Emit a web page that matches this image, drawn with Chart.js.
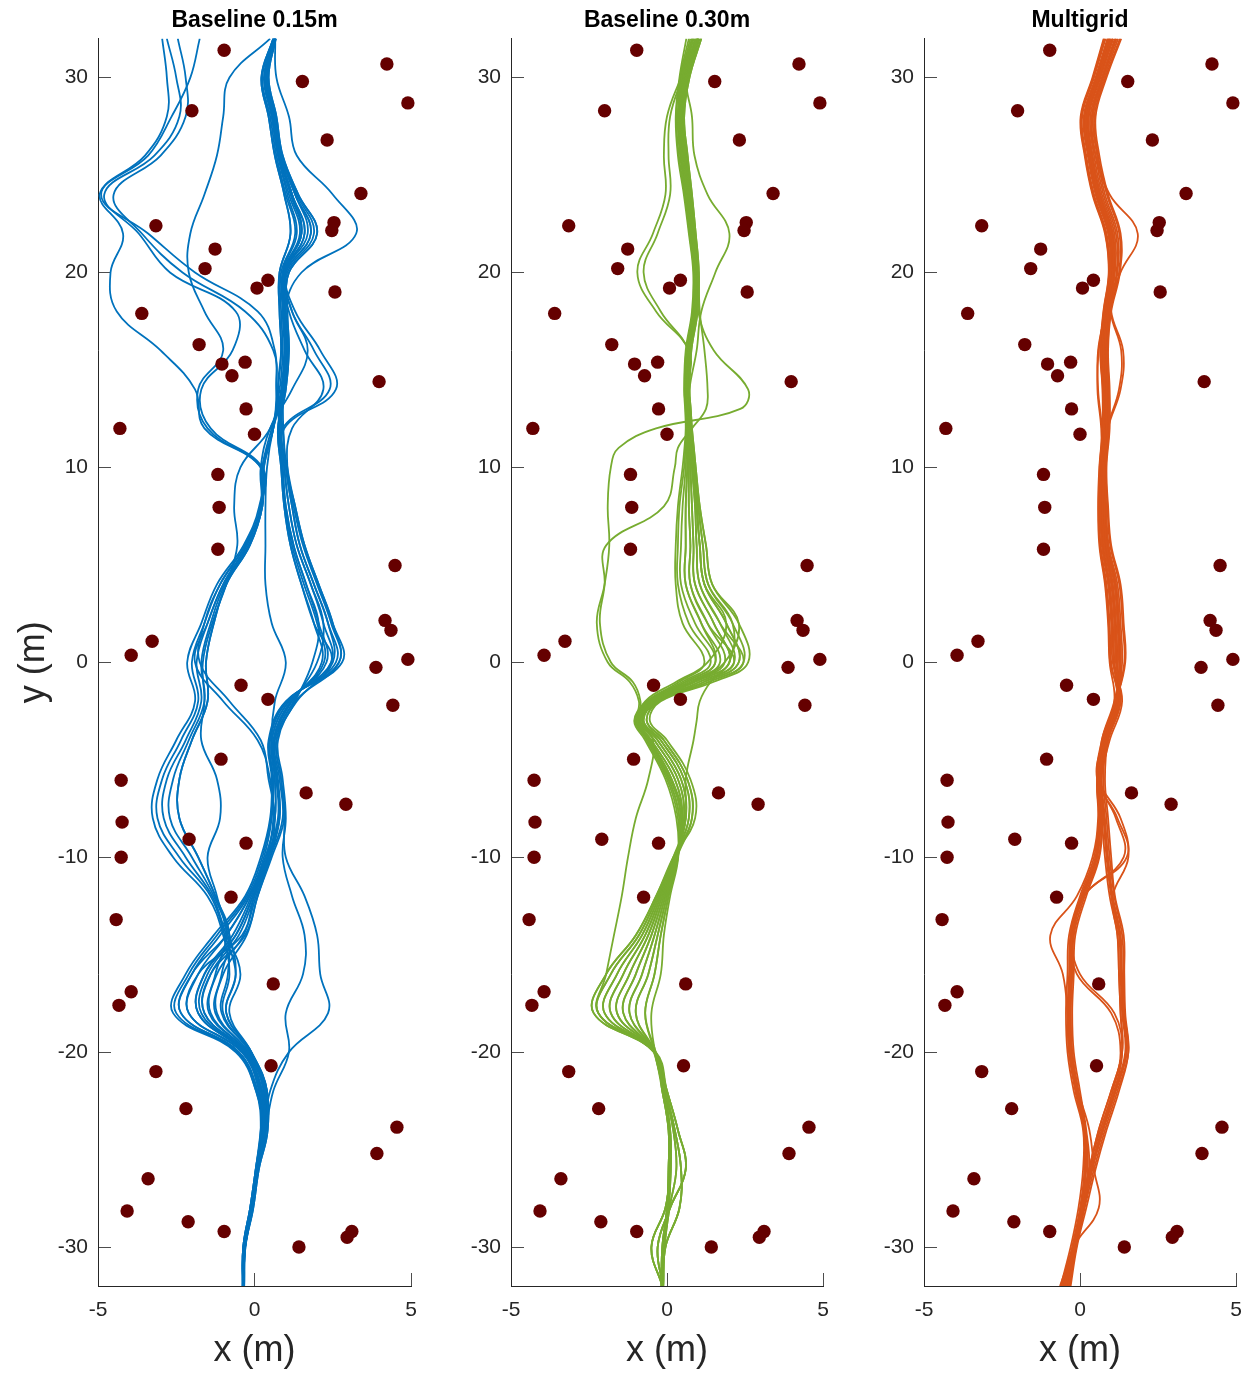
<!DOCTYPE html>
<html>
<head>
<meta charset="utf-8">
<script src="https://cdn.jsdelivr.net/npm/chart.js@4.4.0/dist/chart.umd.min.js"></script>
<style>
html,body{margin:0;padding:0;background:#fff;}
#wrap{position:relative;width:1249px;height:1376px;overflow:hidden;background:#fff;}
canvas{position:absolute;top:0;}
</style>
</head>
<body>
<div id="wrap">
<canvas id="c1" width="430" height="1376" style="left:0px"></canvas>
<canvas id="c2" width="413" height="1376" style="left:430px"></canvas>
<canvas id="c3" width="406" height="1376" style="left:843px"></canvas>
</div>
<script>
// ---------- axis ticks & titles ----------
const xTicks = [-5, 0, 5];
const yTicks = [-30, -20, -10, 0, 10, 20, 30];
const panelTitles = ['Baseline 0.15m', 'Baseline 0.30m', 'Multigrid'];

// ---------- obstacles (same in all panels) ----------
const obsX = [-0.97,4.23,4.9,1.53,-2.0,2.32,3.4,2.54,2.47,-3.15,-1.26,-1.58,0.43,0.08,2.57,-3.6,-1.77,-1.04,-0.3,-0.72,3.98,-0.27,0.0,-4.3,-1.17,-1.13,-1.17,4.49,4.17,4.36,-3.27,-3.94,4.9,3.88,-0.43,0.43,4.42,-1.07,-4.26,1.65,2.92,-4.23,-2.09,-0.27,-4.26,-0.75,-4.42,0.6,-3.94,-4.33,-3.15,0.53,-2.19,4.55,3.91,-3.4,-4.07,-2.12,-0.97,3.11,2.96,1.42];
const obsY = [31.4,30.7,28.7,29.8,28.3,26.8,24.05,22.56,22.15,22.4,21.2,20.2,19.6,19.2,19.0,17.9,16.3,15.3,15.4,14.7,14.4,13.0,11.7,12.0,9.64,7.95,5.8,4.97,2.15,1.64,1.08,0.36,0.15,-0.26,-1.18,-1.9,-2.2,-4.97,-6.05,-6.7,-7.28,-8.2,-9.08,-9.28,-10.0,-12.05,-13.2,-16.5,-16.9,-17.6,-21.0,-20.7,-22.9,-23.85,-25.2,-26.5,-28.15,-28.7,-29.2,-29.2,-29.5,-30.0];

// ---------- panel 1: Baseline 0.15m (x at these y levels) ----------
const yLevels1 = [-32,-30,-28,-26,-24,-22,-20,-18,-16,-14,-12,-10,-8,-6,-4,-2,0,2,4,6,8,10,12,14,16,18,20,22,24,26,28,30,32];
const blue01 = [-0.38,-0.36,-0.14,0.04,0.20,0.05,-0.60,-2.60,-2.20,-1.30,-0.30,0.20,0.50,0.55,0.45,1.00,2.80,2.50,2.05,1.60,1.30,1.05,0.95,2.60,2.10,1.30,1.00,1.70,1.30,0.85,0.65,0.42,0.67];
const blue02 = [-0.37,-0.35,-0.12,0.06,0.24,0.10,-0.50,-2.35,-2.00,-1.10,-0.20,0.30,0.55,0.60,0.50,1.05,2.60,2.35,1.90,1.45,1.20,1.00,0.90,2.40,1.90,1.20,0.95,1.50,1.20,0.80,0.60,0.38,0.65];
const blue03 = [-0.36,-0.33,-0.10,0.08,0.28,0.15,-0.40,-2.10,-1.80,-0.90,-0.15,0.35,0.65,0.65,0.55,1.10,2.45,2.20,1.80,1.35,1.10,0.95,0.85,0.95,1.00,0.95,1.50,3.25,2.50,1.35,1.10,0.70,0.66];
const blue04 = [-0.35,-0.32,-0.08,0.10,0.32,0.20,-0.35,-1.80,-1.60,-0.70,-0.10,0.40,0.75,0.70,0.60,1.15,2.30,2.05,1.65,1.25,1.00,0.90,0.80,1.00,1.10,1.05,1.10,2.00,1.40,0.90,0.70,0.45,0.68];
const blue05 = [-0.34,-0.30,-0.06,0.12,0.36,0.25,-0.30,-1.60,-1.40,-0.50,0.00,0.45,0.80,0.75,0.62,1.20,2.15,1.90,1.50,1.15,0.95,0.85,0.75,0.95,1.05,1.00,1.00,1.80,1.30,0.85,0.65,0.40,0.66];
const blue06 = [-0.38,-0.36,-0.14,0.04,0.20,0.30,-0.25,-1.40,-1.20,-0.35,0.05,0.50,0.90,0.80,0.65,1.25,2.00,2.20,1.80,1.35,1.10,0.95,0.85,0.90,1.00,0.95,0.95,1.60,1.20,0.80,0.60,0.35,0.64];
const blue07 = [-0.37,-0.35,-0.12,0.06,0.24,0.35,-0.20,-1.20,-1.00,-0.25,0.10,0.55,0.95,0.85,0.70,1.30,1.85,2.05,1.65,1.25,1.00,0.90,0.80,0.70,0.65,0.10,-1.90,-3.40,-4.90,-3.40,-2.65,-2.05,-1.75];
const blue08 = [-0.36,-0.33,-0.10,0.08,0.28,0.35,-0.15,-1.00,-0.80,-1.00,-1.50,-2.60,-3.25,-3.10,-2.50,-1.90,-2.15,-1.70,-1.20,-0.35,0.15,0.20,-1.50,-1.80,-1.00,-1.60,-2.10,-2.05,-1.60,-1.20,-1.00,-0.80,0.50];
const blue09 = [-0.35,-0.32,-0.08,0.10,0.32,0.40,-0.10,-0.90,-0.60,-0.95,-1.40,-2.40,-3.10,-2.95,-2.35,-1.80,-2.00,-1.60,-1.10,-0.30,0.20,0.20,-1.60,-1.90,-3.00,-4.40,-4.60,-4.20,-4.95,-3.50,-2.80,-2.80,-2.95];
const blue10 = [-0.34,-0.30,-0.06,0.12,0.36,0.40,-0.10,-0.80,-0.45,-0.90,-1.35,-2.20,-2.90,-2.80,-2.20,-1.70,-1.85,-1.50,-1.00,-0.25,0.20,0.25,-1.40,-1.70,-0.70,-0.60,-2.70,-3.70,-4.80,-3.20,-2.40,-2.50,-2.80];
const blue11 = [-0.33,-0.29,-0.04,0.14,0.42,0.35,-0.15,-1.05,-0.85,-0.85,-1.30,-2.00,-2.70,-2.60,-2.10,-1.60,-1.70,-1.40,-0.95,-0.20,0.25,0.25,0.60,0.70,0.60,-0.30,-2.30,-3.60,-4.50,-3.00,-2.20,-2.20,-2.45];
const blue12 = [-0.33,-0.29,-0.04,0.14,0.42,0.35,-0.20,-1.25,-1.05,-0.80,-1.25,-1.80,-2.40,-2.40,-2.00,-1.50,-1.55,-1.30,-0.90,-0.15,0.25,0.30,0.60,0.85,0.95,0.90,0.90,1.45,1.10,0.75,0.55,0.30,0.62];
const blue13 = [-0.36,-0.33,-0.10,0.08,0.28,0.30,-0.25,-1.45,-1.25,-0.90,-1.20,-1.50,-1.10,-1.20,-1.70,-1.60,-1.65,-1.35,-0.90,-0.55,-0.65,-0.45,0.50,0.80,0.90,0.85,0.85,1.30,1.00,0.70,0.50,0.25,0.60];
const blue14 = [-0.35,-0.32,-0.08,0.10,0.32,0.50,1.10,2.35,2.10,2.00,1.60,1.00,0.95,0.85,0.70,1.30,2.70,2.50,2.05,1.60,1.30,1.05,1.20,2.20,1.60,1.10,0.90,1.35,1.05,0.75,0.55,0.33,0.63];
const blue15 = [-0.34,-0.30,-0.06,0.12,0.36,0.60,1.10,1.00,1.55,1.60,1.20,0.90,1.00,0.90,0.75,1.35,2.50,2.35,1.90,1.45,1.20,1.00,0.90,0.75,0.85,0.80,0.80,1.15,0.95,0.65,0.45,0.22,0.60];
const blue16 = [-0.37,-0.35,-0.12,0.06,0.24,0.20,-0.35,-1.80,-1.60,-0.60,-0.05,0.40,0.60,0.50,0.10,-1.00,-1.90,-1.50,-1.00,-0.25,0.20,0.25,0.55,0.90,1.00,0.95,0.95,1.60,1.20,0.80,0.60,0.35,0.64];
const blue17 = [-0.38,-0.36,-0.14,0.04,0.20,0.15,-0.40,-2.10,-1.80,-0.40,0.00,0.45,0.65,0.45,0.20,-0.80,-1.75,-1.60,-1.10,-0.30,0.20,0.20,0.50,1.20,1.70,1.20,0.95,1.50,1.20,0.80,0.60,0.38,0.65];
const blue18 = [-0.35,-0.32,-0.08,0.10,0.32,0.25,-0.30,-1.60,-1.40,-0.30,0.10,0.50,0.80,0.70,0.55,0.65,1.00,0.55,0.35,0.35,0.35,0.40,0.60,0.95,1.05,1.00,1.00,1.80,1.30,0.85,0.65,0.40,0.66];
const blue19 = [-0.34,-0.30,-0.06,0.12,0.36,0.10,-0.50,-2.35,-2.00,-0.90,-0.15,0.35,0.65,0.65,0.55,1.10,2.45,1.90,1.50,1.15,0.95,0.85,0.75,1.00,1.10,1.05,1.10,2.00,1.40,0.90,0.70,0.45,0.68];
const blue20 = [-0.36,-0.33,-0.10,0.08,0.28,0.40,-0.10,-0.90,-0.60,-0.80,-1.25,-1.80,-2.40,-2.40,-2.00,-1.50,-1.55,-1.30,-0.90,-0.15,0.25,0.30,0.60,0.75,0.85,0.80,0.80,1.15,0.95,0.65,0.45,0.22,0.60];
const blue21 = [-0.37,-0.34,-0.11,0.07,0.26,0.05,-0.55,-2.50,-2.10,-1.20,-0.25,0.25,0.52,0.58,0.48,1.02,2.70,2.45,2.00,1.55,1.25,1.02,0.92,0.92,1.02,0.98,1.05,1.90,1.35,0.88,0.68,0.43,0.67];
const blue22 = [-0.35,-0.31,-0.07,0.11,0.34,0.22,-0.32,-1.70,-1.50,-0.60,-0.05,0.42,0.78,0.72,0.61,1.18,2.22,2.00,1.58,1.20,0.98,0.88,0.78,0.88,0.98,0.92,0.92,1.50,1.15,0.78,0.58,0.32,0.63];

// ---------- panel 2: Baseline 0.30m ----------
const yLevels2 = [-32,-30,-28,-26,-24,-22,-20,-18,-16,-14,-12,-10,-8,-6,-4,-3,-2,-1,0,2,4,6,8,10,11,12,13,14,16,18,20,22,24,26,28,30,32];
const green01 = [-0.18,-0.15,0.00,0.05,0.05,-0.15,-0.42,-2.35,-1.95,-1.00,-0.35,0.20,0.90,0.75,0.00,-0.55,-0.20,1.50,2.60,2.30,1.45,1.25,1.05,0.92,0.86,0.80,0.76,0.72,0.78,0.98,1.02,0.92,0.80,0.66,0.55,0.72,1.10];
const green02 = [-0.16,-0.12,0.02,0.08,0.08,-0.12,-0.40,-2.20,-1.80,-0.90,-0.30,0.22,0.80,0.65,-0.10,-0.65,-0.25,1.35,2.45,2.10,1.32,1.15,1.00,0.88,0.82,0.77,0.74,0.70,0.76,0.96,1.00,0.90,0.78,0.62,0.52,0.68,1.05];
const green03 = [-0.14,-0.10,0.05,0.12,0.10,-0.10,-0.38,-2.00,-1.60,-0.80,-0.25,0.25,0.70,0.55,-0.20,-0.75,-0.30,1.20,2.30,1.90,1.20,1.05,0.95,0.84,0.79,0.75,0.72,0.68,0.74,0.94,0.98,0.88,0.75,0.58,0.48,0.64,1.00];
const green04 = [-0.15,-0.50,-0.05,0.10,0.08,-0.12,-0.40,-1.80,-1.40,-0.70,-0.20,0.27,0.60,0.45,-0.30,-0.80,-0.35,1.05,2.15,1.70,1.05,0.95,0.90,0.80,0.76,0.72,0.70,0.66,0.72,0.92,0.96,0.85,0.72,0.55,0.45,0.60,0.95];
const green05 = [-0.13,-0.30,0.10,0.60,0.35,0.00,-0.36,-1.60,-1.20,-0.60,-0.15,0.30,0.55,0.35,-0.40,-0.85,-0.40,0.90,2.00,1.50,0.90,0.85,0.80,0.75,0.72,0.70,0.68,0.64,0.70,0.90,0.94,0.82,0.70,0.52,0.42,0.56,0.90];
const green06 = [-0.12,-0.05,0.40,0.45,0.25,-0.05,-0.38,-1.40,-1.00,-0.50,-0.10,0.30,0.50,0.25,-0.50,-0.90,-0.45,0.80,1.85,1.30,0.75,0.75,0.70,0.70,0.69,0.68,0.66,0.62,0.68,0.88,0.92,0.80,0.67,0.48,0.40,0.52,0.85];
const green07 = [-0.14,-0.08,0.08,0.30,0.20,-0.08,-0.40,-1.20,-0.80,-0.40,-0.05,0.32,0.45,0.15,-0.55,-0.95,-0.50,0.70,1.70,1.10,0.60,0.60,0.60,0.65,0.66,0.66,0.64,0.60,0.66,0.86,0.90,0.77,0.64,0.45,0.37,0.48,0.80];
const green08 = [-0.18,-0.15,0.00,0.05,0.05,-0.15,-0.42,-1.00,-0.60,-0.30,0.00,0.33,0.40,0.05,-0.60,-1.00,-0.55,0.60,1.55,0.90,0.45,0.45,0.50,0.60,0.62,0.64,0.62,0.58,0.64,0.84,0.88,0.75,0.60,0.42,0.34,0.45,0.75];
const green09 = [-0.16,-0.12,0.02,0.08,0.08,-0.12,-0.40,-0.70,-0.40,-0.20,0.05,0.35,0.35,0.00,-0.65,-1.00,-0.60,0.50,1.40,0.70,0.35,0.35,0.40,0.55,0.59,0.62,0.60,0.56,0.62,0.82,0.86,0.72,0.57,0.38,0.30,0.42,0.70];
const green10 = [-0.14,-0.10,0.05,0.12,0.10,-0.10,-0.38,-0.50,-0.20,-0.10,0.10,0.36,0.30,-0.05,-0.70,-1.05,-0.65,0.40,1.20,0.50,0.28,0.28,0.35,0.50,0.56,0.60,0.58,0.55,0.60,0.80,0.84,0.70,0.54,0.35,0.28,0.40,0.62];
const green11 = [-0.15,-0.50,-0.05,0.10,0.08,-0.12,-0.40,-2.00,-1.60,-0.80,-0.25,0.25,0.60,0.60,0.85,0.95,1.05,1.40,2.00,2.10,1.32,1.15,1.00,0.88,0.82,0.77,0.74,0.72,0.95,1.10,1.55,2.00,1.30,0.88,0.80,0.62,1.00];
const green12 = [-0.13,-0.30,0.10,0.60,0.35,0.00,-0.36,-2.20,-1.95,-1.70,-1.45,-1.25,-1.00,-0.60,-0.45,-0.90,-0.70,0.30,1.30,1.90,1.20,1.05,0.95,0.84,0.79,0.75,0.72,0.68,0.74,0.94,0.98,0.88,0.75,0.58,0.48,0.64,1.00];
const green13 = [-0.12,-0.05,0.40,0.45,0.25,-0.05,-0.38,-1.60,-1.20,-0.60,-0.15,0.30,0.45,0.10,-0.60,-0.95,-0.90,-1.20,-1.90,-2.25,-2.00,-1.85,-1.90,-1.80,-1.55,-0.35,2.35,2.60,1.50,1.00,1.00,0.88,0.74,0.60,0.50,0.66,1.02];
const green14 = [-0.14,-0.08,0.08,0.30,0.20,-0.08,-0.40,-1.40,-1.00,-0.50,-0.10,0.30,0.50,0.15,-0.55,-0.90,-0.85,-1.10,-1.80,-2.15,-2.00,-1.95,-0.10,0.25,0.35,0.80,1.25,1.30,1.20,1.05,1.00,0.86,0.72,0.56,0.46,0.62,0.98];
const green15 = [-0.18,-0.15,0.00,0.05,0.05,-0.15,-0.42,-2.20,-1.80,-0.90,-0.30,0.22,0.70,0.55,-0.20,-0.75,-0.30,1.20,2.30,1.90,1.20,1.05,0.95,0.84,0.79,0.75,0.72,0.68,0.70,-0.35,-0.95,-0.45,-0.05,-0.10,0.00,0.45,0.95];
const green16 = [-0.16,-0.12,0.02,0.08,0.08,-0.12,-0.40,-1.80,-1.40,-0.70,-0.20,0.27,0.55,0.35,-0.40,-0.85,-0.40,0.90,2.00,1.50,0.90,0.85,0.80,0.75,0.72,0.70,0.68,0.64,0.68,-0.20,-0.75,-0.30,0.10,0.05,0.10,0.50,1.00];
const green17 = [-0.14,-0.10,0.05,0.12,0.10,-0.10,-0.38,-1.20,-0.80,-0.40,-0.05,0.32,0.80,0.65,-0.10,-0.65,-0.25,1.35,2.45,1.70,1.05,0.95,0.90,0.80,0.76,0.72,0.70,0.66,0.72,0.92,0.96,0.85,0.72,0.55,0.45,0.60,0.95];
const green18 = [-0.15,-0.50,-0.05,0.10,0.08,-0.12,-0.40,-2.35,-1.95,-1.00,-0.35,0.20,0.60,0.45,-0.30,-0.80,-0.35,1.05,2.15,1.30,0.75,0.75,0.70,0.70,0.69,0.68,0.66,0.62,0.68,0.88,0.92,0.80,0.67,0.48,0.40,0.52,0.85];
const green19 = [-0.13,-0.30,0.10,0.60,0.35,0.00,-0.36,-0.70,-0.40,-0.20,0.05,0.35,0.50,0.25,-0.50,-0.90,-0.45,0.80,1.85,2.30,1.45,1.25,1.05,0.92,0.86,0.80,0.76,0.72,0.78,0.98,1.02,0.92,0.80,0.66,0.55,0.72,1.10];
const green20 = [-0.12,-0.05,0.40,0.45,0.25,-0.05,-0.38,-1.00,-0.60,-0.30,0.00,0.33,0.40,0.05,-0.60,-1.00,-0.55,0.60,1.55,1.10,0.60,0.60,0.60,0.65,0.66,0.66,0.64,0.60,0.66,0.86,0.90,0.77,0.64,0.45,0.37,0.48,0.80];

// ---------- panel 3: Multigrid ----------
const yLevels3 = [-32,-30,-28,-26,-24,-22,-20,-18,-16,-14,-12,-10,-8,-6,-4,-2,0,2,4,6,8,10,12,14,16,18,20,22,24,26,28,30,32];
const orange01 = [-0.62,-0.30,-0.05,0.10,0.10,-0.20,-0.40,-0.45,-0.40,-0.35,0.00,0.45,0.60,0.55,0.75,1.15,1.45,1.40,1.30,1.00,0.90,0.85,0.95,0.95,0.90,1.00,1.28,1.30,0.90,0.62,0.50,0.85,1.32];
const orange02 = [-0.58,-0.25,0.00,0.15,0.12,-0.15,-0.35,-0.40,-0.35,-0.30,0.05,0.50,0.62,0.60,0.80,1.20,1.35,1.30,1.20,0.92,0.84,0.80,0.90,0.90,0.85,0.95,1.20,1.20,0.80,0.55,0.42,0.78,1.22];
const orange03 = [-0.52,-0.20,0.05,0.20,0.15,-0.10,-0.30,-0.35,-0.30,-0.25,0.10,0.55,0.65,0.62,0.85,1.25,1.25,1.20,1.10,0.85,0.78,0.76,0.85,0.85,0.80,0.90,1.12,1.10,0.70,0.45,0.33,0.70,1.12];
const orange04 = [-0.45,-0.18,0.08,0.25,0.18,-0.05,-0.25,-0.30,-0.25,-0.20,0.15,0.60,0.70,0.65,0.90,1.30,1.15,1.10,1.00,0.78,0.72,0.72,0.80,0.80,0.75,0.85,1.05,1.00,0.60,0.35,0.23,0.60,1.00];
const orange05 = [-0.38,-0.15,0.10,0.30,0.20,0.00,-0.20,-0.25,-0.20,-0.15,0.20,0.62,0.72,0.68,0.95,1.35,1.05,1.00,0.90,0.70,0.66,0.68,0.75,0.75,0.70,0.80,0.98,0.90,0.50,0.25,0.12,0.50,0.88];
const orange06 = [-0.60,-0.20,0.05,0.30,0.60,1.00,1.35,1.30,1.25,1.20,0.95,0.80,0.70,0.60,0.70,1.10,0.95,0.90,0.80,0.62,0.58,0.62,0.72,0.72,0.65,0.75,0.92,0.80,0.40,0.15,0.02,0.40,0.76];
const orange07 = [-0.50,-0.18,0.10,0.35,0.70,1.10,1.45,1.35,1.30,1.25,1.00,0.85,0.75,0.65,0.75,1.15,1.42,1.36,1.26,0.97,0.88,0.83,0.93,0.93,0.88,0.98,1.25,1.26,0.86,0.58,0.46,0.82,1.28];
const orange08 = [-0.42,-0.15,0.12,0.40,0.75,1.15,1.50,1.40,1.35,1.30,1.05,0.90,0.80,0.70,0.80,1.20,1.30,1.25,1.15,0.90,0.82,0.79,0.88,0.88,0.83,0.93,1.17,1.15,0.75,0.50,0.38,0.74,1.17];
const orange09 = [-0.35,-0.12,0.15,0.45,0.80,1.20,1.55,1.42,1.40,1.35,1.10,0.95,0.85,0.75,0.85,1.25,1.20,1.15,1.05,0.82,0.75,0.74,0.83,0.83,0.78,0.88,1.09,1.05,0.65,0.40,0.28,0.65,1.06];
const orange10 = [-0.30,-0.10,0.20,0.50,0.85,1.25,1.55,1.45,1.42,1.40,1.12,1.00,0.90,0.80,0.90,1.30,1.10,1.05,0.95,0.74,0.69,0.70,0.78,0.78,0.73,0.83,1.02,0.95,0.55,0.30,0.18,0.55,0.94];
const orange11 = [-0.55,-0.20,0.08,0.30,0.65,1.05,1.30,1.00,-0.10,-0.30,0.05,0.50,0.62,0.58,0.80,1.20,1.00,0.95,0.85,0.66,0.62,0.65,0.74,0.74,0.68,0.78,0.95,0.85,0.45,0.20,0.07,0.45,0.82];
const orange12 = [-0.40,-0.15,0.12,0.35,0.70,1.10,1.35,1.10,0.00,-0.25,0.10,0.55,0.66,0.62,0.85,1.25,0.97,0.92,0.82,0.64,0.60,0.63,0.73,0.73,0.66,0.76,0.93,0.82,0.42,0.17,0.04,0.42,0.78];
const orange13 = [-0.64,-0.22,0.02,0.15,0.12,-0.12,-0.35,-0.40,-0.55,-0.95,-0.10,0.40,0.58,0.55,0.78,1.18,1.10,1.05,0.95,0.74,0.70,0.70,0.70,0.58,0.58,0.82,1.02,0.95,0.55,0.30,0.18,0.55,0.94];
const orange14 = [-0.48,-0.20,0.10,0.30,0.60,1.00,1.35,1.30,1.25,1.20,1.05,1.55,1.30,0.60,0.70,1.10,1.30,1.25,1.15,0.88,0.80,0.78,0.90,1.30,1.38,1.00,1.10,1.05,0.65,0.40,0.28,0.65,1.06];
const orange15 = [-0.56,-0.20,0.60,0.45,0.30,-0.05,-0.25,-0.30,-0.25,-0.20,0.10,1.50,1.20,0.55,0.75,1.15,1.20,1.15,1.05,0.82,0.75,0.74,0.82,0.82,0.78,0.88,1.30,1.85,0.95,0.50,0.38,0.72,1.15];
const orange16 = [-0.46,-0.24,0.02,0.17,0.13,-0.13,-0.33,-0.38,-0.33,-0.28,0.07,0.52,0.64,0.61,0.82,1.22,1.28,1.22,1.12,0.86,0.79,0.77,0.88,1.25,1.32,0.98,1.08,1.02,0.62,0.38,0.26,0.62,1.04];
const orange17 = [-0.33,-0.16,0.11,0.38,0.73,1.13,1.48,1.38,1.33,1.28,1.03,0.88,0.78,0.68,0.78,1.18,1.08,1.02,0.92,0.72,0.68,0.69,0.68,0.56,0.60,0.80,1.00,0.92,0.52,0.28,0.15,0.52,0.90];
const orange18 = [-0.50,-0.21,0.04,0.18,0.14,-0.08,-0.28,-0.33,-0.28,-0.22,0.12,1.40,1.15,0.58,0.80,1.20,1.18,1.12,1.02,0.80,0.74,0.73,0.81,0.81,0.76,0.86,1.06,0.98,0.58,0.33,0.21,0.58,0.97];

const blueLines = [blue01,blue02,blue03,blue04,blue05,blue06,blue07,blue08,blue09,blue10,blue11,blue12,blue13,blue14,blue15,blue16,blue17,blue18,blue19,blue20,blue21,blue22];
const greenLines = [green01,green02,green03,green04,green05,green06,green07,green08,green09,green10,green11,green12,green13,green14,green15,green16,green17,green18,green19,green20];
const orangeLines = [orange01,orange02,orange03,orange04,orange05,orange06,orange07,orange08,orange09,orange10,orange11,orange12,orange13,orange14,orange15,orange16,orange17,orange18];

Chart.defaults.font.family = "'Liberation Sans', Arial, Helvetica, sans-serif";

function makePanel(id, title, yLevels, lines, color, axisW, padR, showYTitle) {
  const datasets = [{
    data: obsX.map((x, i) => ({x: x, y: obsY[i]})),
    showLine: false, pointRadius: 6.7, pointHoverRadius: 6.7,
    pointBackgroundColor: '#650000', pointBorderWidth: 0, borderWidth: 0,
    order: 0, clip: false
  }];
  lines.forEach(xs => datasets.push({
    data: xs.map((x, i) => ({x: x, y: yLevels[i]})),
    showLine: true, borderColor: color, borderWidth: 1.8,
    pointRadius: 0, pointHoverRadius: 0, tension: 0.4, fill: false, order: 1
  }));
  new Chart(document.getElementById(id), {
    type: 'scatter',
    data: {datasets: datasets},
    options: {
      responsive: false, animation: false, devicePixelRatio: 1, events: [],
      layout: {padding: {left: 0, right: padR, top: 0, bottom: 0}},
      plugins: {
        legend: {display: false}, tooltip: {enabled: false},
        title: {display: true, text: title, fullSize: false, color: '#000',
                font: {size: 23, weight: 'bold'}, padding: {top: 7, bottom: 4}}
      },
      scales: {
        x: {
          type: 'linear', position: 'bottom', min: -5, max: 5,
          afterBuildTicks: s => { s.ticks = xTicks.map(v => ({value: v})); },
          afterFit: s => { s.height = 90; s.paddingLeft = 0; s.paddingRight = 0; },
          grid: {drawOnChartArea: false, drawTicks: true, tickLength: -13, tickColor: '#4d4d4d', lineWidth: 1},
          border: {display: true, color: '#262626', width: 1},
          ticks: {color: '#262626', font: {size: 21}, padding: 25, maxRotation: 0, autoSkip: false},
          title: {display: true, text: 'x (m)', color: '#262626', font: {size: 36}, padding: {top: 0, bottom: 3}}
        },
        y: {
          type: 'linear', position: 'left', min: -32, max: 32,
          afterBuildTicks: s => { s.ticks = yTicks.map(v => ({value: v})); },
          afterFit: s => { s.width = axisW; s.paddingTop = 0; s.paddingBottom = 0; },
          grid: {drawOnChartArea: false, drawTicks: true, tickLength: -13, tickColor: '#4d4d4d', lineWidth: 1},
          border: {display: true, color: '#262626', width: 1},
          ticks: {color: '#262626', font: {size: 21}, padding: 23, autoSkip: false},
          title: {display: showYTitle, text: 'y (m)', color: '#262626', font: {size: 36}, padding: {top: 12, bottom: 0}}
        }
      }
    }
  });
}

makePanel('c1', panelTitles[0], yLevels1, blueLines, '#0072BD', 98, 19, true);
makePanel('c2', panelTitles[1], yLevels2, greenLines, '#77AC30', 81, 20, false);
makePanel('c3', panelTitles[2], yLevels3, orangeLines, '#D95319', 81, 13, false);
</script>
</body>
</html>
